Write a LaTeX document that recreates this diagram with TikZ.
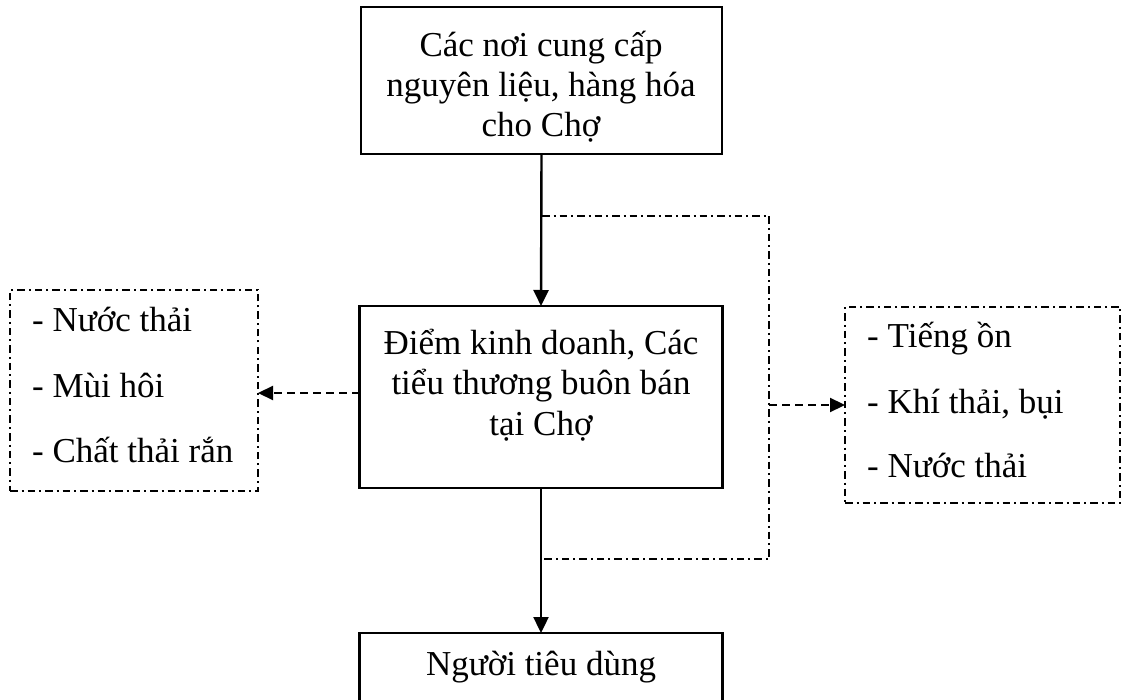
\documentclass[tikz,border=0pt]{standalone}
\usepackage{fontspec}
\setmainfont{Liberation Serif}
\usetikzlibrary{arrows.meta,calc}
\begin{document}
\begin{tikzpicture}[x=1pt,y=-1pt,
  solidbox/.style={draw, line width=2.2pt, inner sep=0pt, outer sep=0pt},
  dashbox/.style={draw, line width=1.6pt, dash pattern=on 7.5pt off 4pt on 2pt off 4pt, inner sep=0pt, outer sep=0pt},
  flow/.style={line width=2.4pt, -{Triangle[length=16pt,width=15pt]}},
  emit/.style={line width=2.2pt, dash pattern=on 8pt off 5pt, -{Triangle[length=15pt,width=14pt]}},
  loopline/.style={line width=1.6pt, dash pattern=on 7.5pt off 4pt on 2pt off 4pt},
  txt/.style={font=\fontsize{35}{40}\selectfont, inner sep=0pt, anchor=base},
  ltxt/.style={font=\fontsize{35}{40}\selectfont, inner sep=0pt, anchor=base west}]
\useasboundingbox (0,0) rectangle (1124,700);
\clip (0,0) rectangle (1124,700);
% boxes
\node[solidbox, minimum width=361pt, minimum height=147pt] (top) at (541.5,80.5) {};
\node[solidbox, minimum width=363pt, minimum height=182pt] (mid) at (541,397) {};
\node[solidbox, minimum width=363pt, minimum height=100pt] (bot) at (541,683) {};
\node[dashbox, minimum width=248pt, minimum height=201pt] (lbox) at (134,390.5) {};
\node[dashbox, minimum width=275pt, minimum height=196pt] (rbox) at (982.5,405) {};
% texts
\node[txt] (t1) at (541,57) {Các nơi cung cấp};
\node[txt] (t2) at (541,97) {nguyên liệu, hàng hóa};
\node[txt] (t3) at (541,137) {cho Chợ};
\node[txt] (m1) at (541,355) {Điểm kinh doanh, Các};
\node[txt] (m2) at (541,395) {tiểu thương buôn bán};
\node[txt] (m3) at (541,435) {tại Chợ};
\node[txt] (b1) at (541,675) {Người tiêu dùng};
\node[ltxt] (l1) at (32,332) {- Nước thải};
\node[ltxt] (l2) at (32,397) {- Mùi hôi};
\node[ltxt] (l3) at (32,462) {- Chất thải rắn};
\node[ltxt] (r1) at (867,348) {- Tiếng ồn};
\node[ltxt] (r2) at (867,413) {- Khí thải, bụi};
\node[ltxt] (r3) at (867,477) {- Nước thải};
% main flow
\draw[flow] (top.south) -- (mid.north);
\draw[flow] (mid.south) -- (bot.north);
% dash-dot loop
\coordinate (la) at (542,216);
\coordinate (lb) at (769,216);
\coordinate (lc) at (769,559);
\coordinate (ld) at (542,559);
\coordinate (lr) at (769,405);
\draw[loopline] (la) -- (lb) -- (lc) -- (ld);
% emissions
\draw[emit] (lr) -- (rbox.west);
\coordinate (ml) at (mid.west |- {(0,393)});
\draw[emit] (ml) -- (lbox.east |- ml);
\end{tikzpicture}
\end{document}
